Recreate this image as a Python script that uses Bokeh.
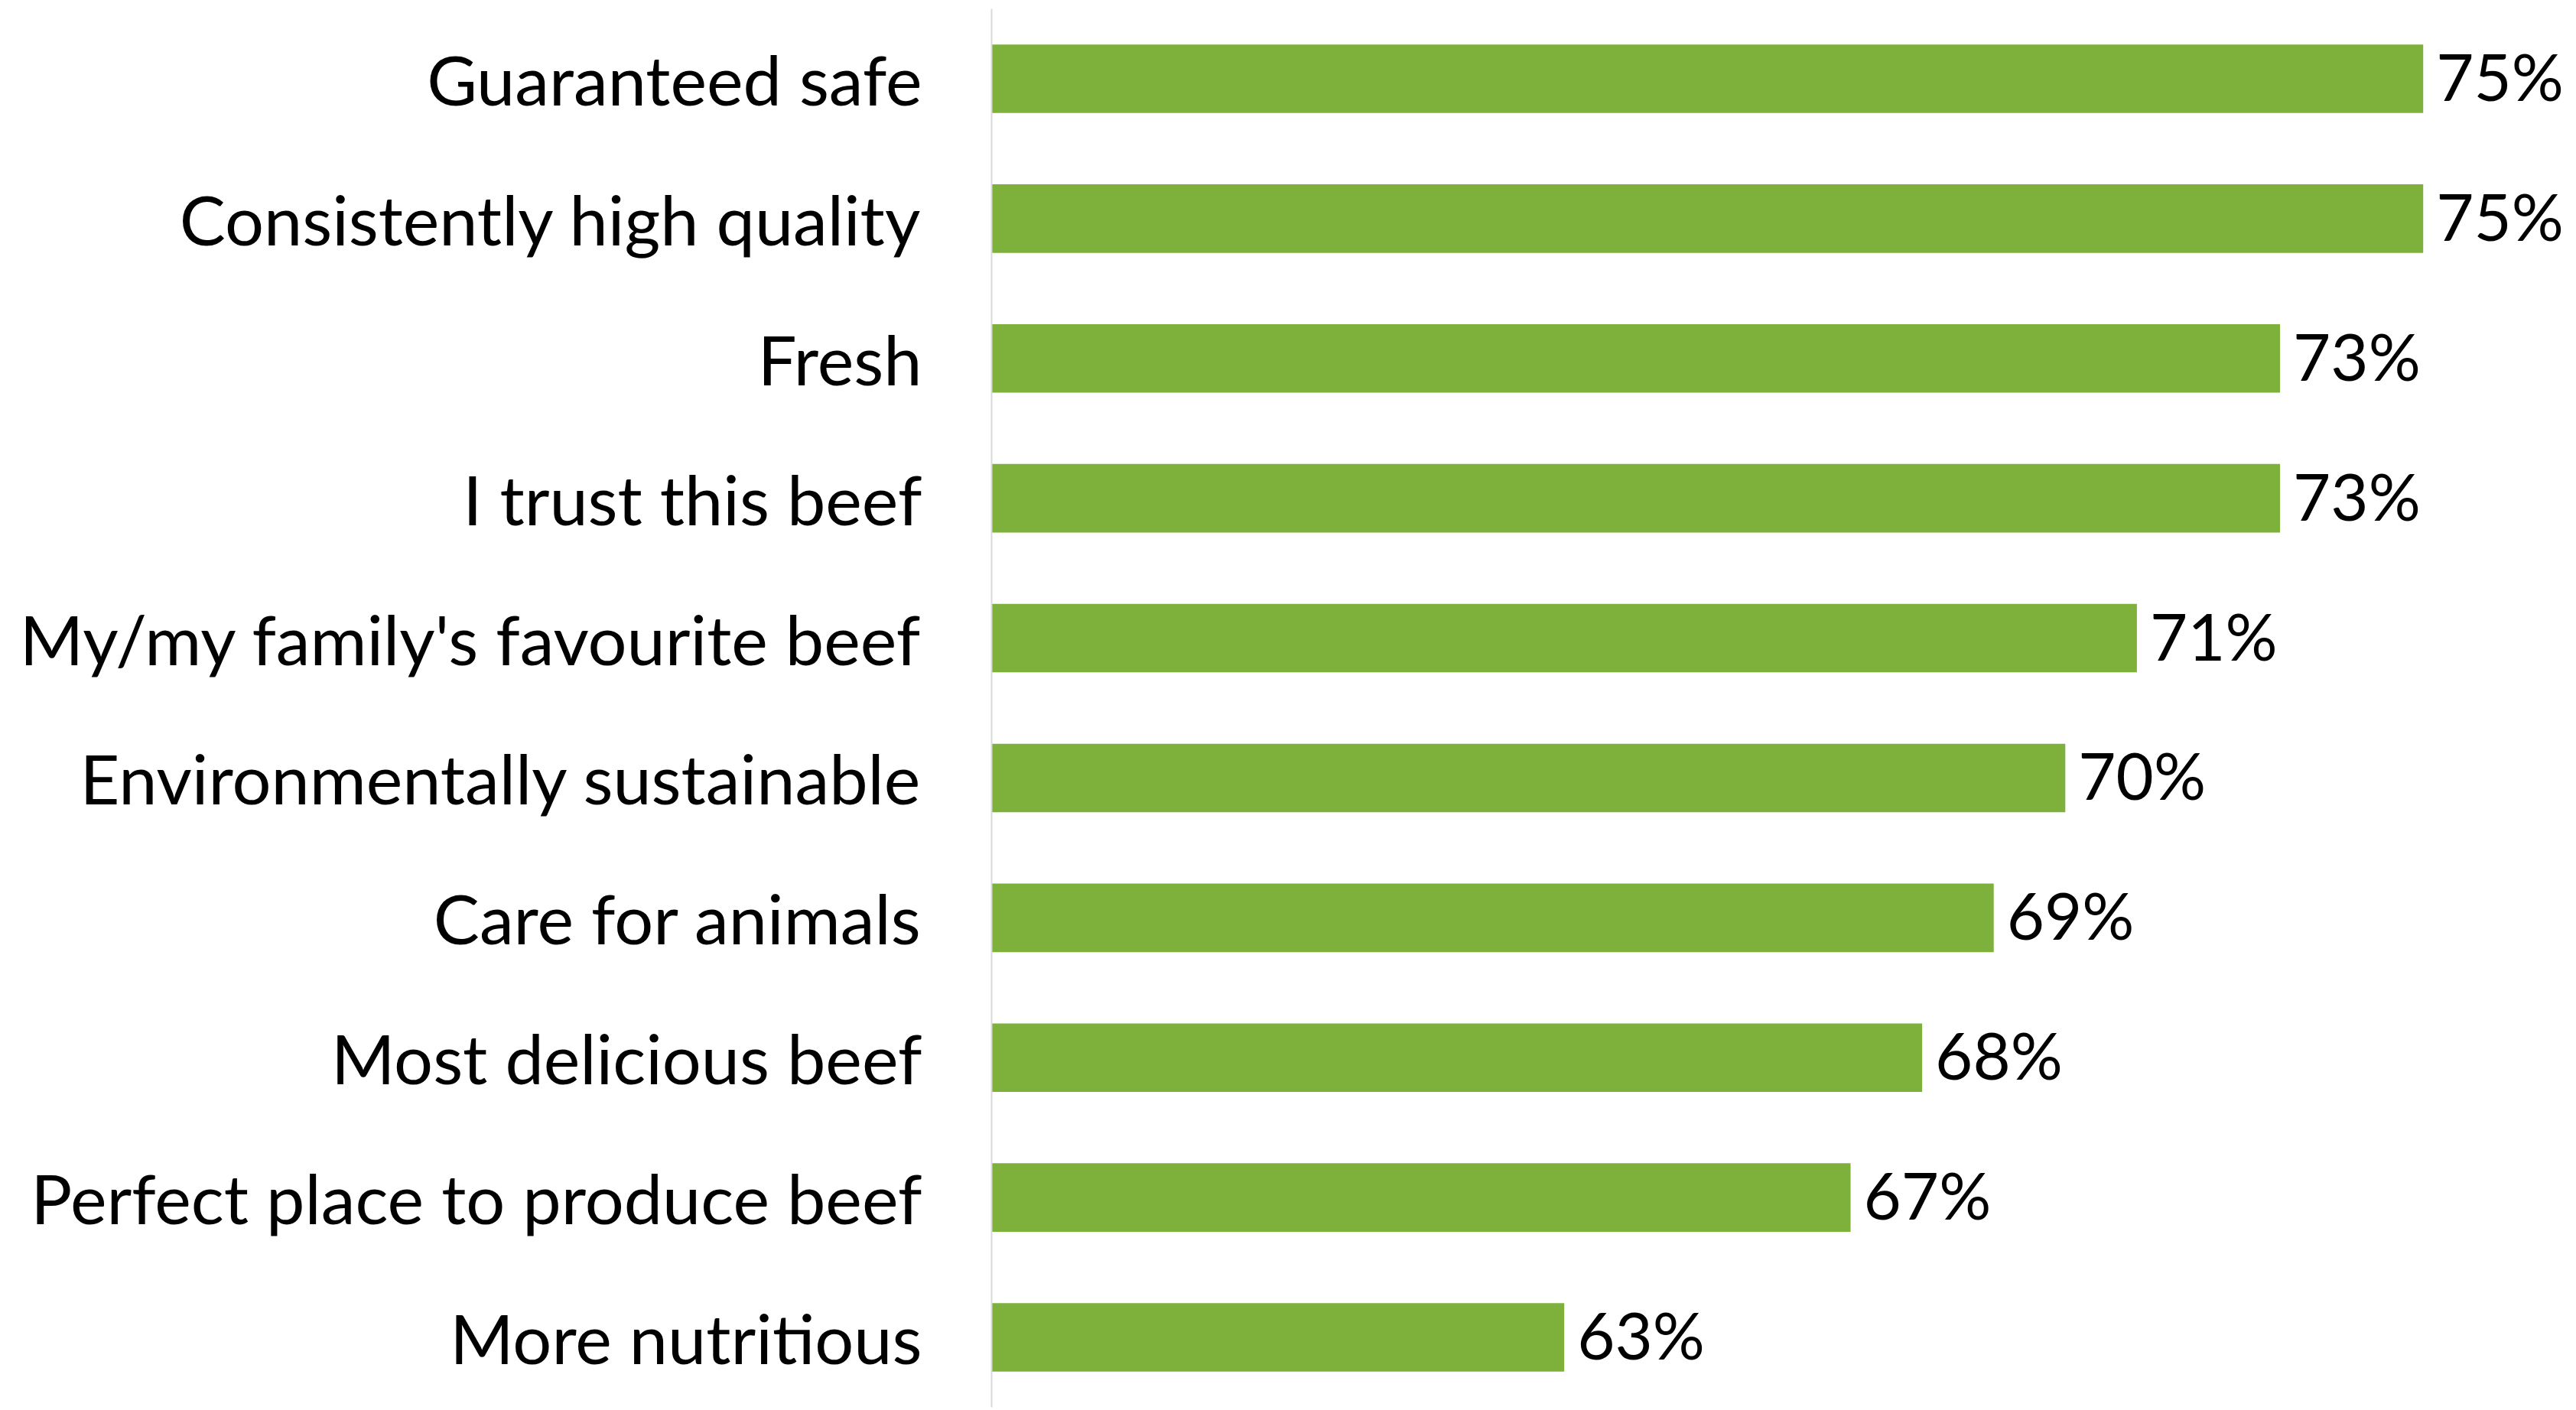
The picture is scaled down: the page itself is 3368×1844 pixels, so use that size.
from bokeh.plotting import figure
from bokeh.models import ColumnDataSource, Range1d, FactorRange
from bokeh.core.properties import value
from bokeh.embed import file_html
from bokeh.resources import INLINE

categories = [
    "Guaranteed safe",
    "Consistently high quality",
    "Fresh",
    "I trust this beef",
    "My/my family's favourite beef",
    "Environmentally sustainable",
    "Care for animals",
    "Most delicious beef",
    "Perfect place to produce beef",
    "More nutritious",
]
values = [75, 75, 73, 73, 71, 70, 69, 68, 67, 63]
labels = [f"{v}%" for v in values]

FONT = "Lato"
BAR = "#7DB13B"
X_START = 55

src = ColumnDataSource(dict(cat=categories, val=values, lab=labels,
                            base=[X_START] * len(values)))

p = figure(
    width=3368, height=1844,
    y_range=FactorRange(*reversed(categories), range_padding=0),
    x_range=Range1d(X_START, 77.14),
    x_axis_location=None,
    output_backend="svg", toolbar_location=None,
    min_border_left=1296, min_border_right=0,
    min_border_top=11, min_border_bottom=4,
)
p.outline_line_color = None
p.background_fill_color = "white"
p.border_fill_color = "white"
p.xgrid.grid_line_color = None
p.ygrid.grid_line_color = None

p.hbar(y="cat", left="base", right="val", height=0.49, source=src,
       fill_color=BAR, line_color=None)

p.text(x="val", y="cat", text="lab", source=src, x_offset=17, y_offset=-4,
       text_baseline="middle", text_align="left",
       text_font=value(FONT), text_font_size="85px", text_color="black")

ya = p.yaxis[0]
ya.axis_line_color = "#D9D9D9"
ya.axis_line_width = 2
ya.major_tick_line_color = None
ya.minor_tick_line_color = None
ya.major_tick_out = 0
ya.major_tick_in = 0
ya.major_label_standoff = 91
ya.major_label_text_font = FONT
ya.major_label_text_font_size = "90px"
ya.major_label_text_color = "black"

open("out.html", "w").write(file_html(p, INLINE))
